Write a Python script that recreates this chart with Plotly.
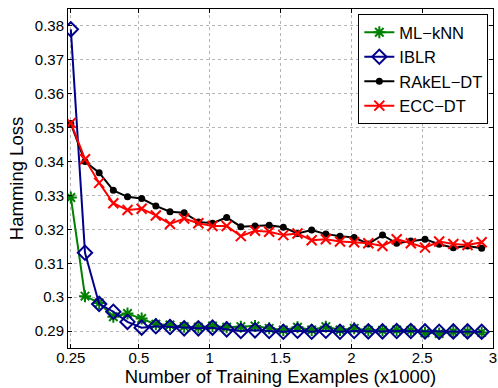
import plotly.graph_objects as go

# Training set sizes (thousands of examples) at which each method was evaluated
train_size = [0.02, 0.12, 0.22, 0.32, 0.42, 0.52, 0.62, 0.72, 0.82, 0.92,
              1.02, 1.12, 1.22, 1.32, 1.42, 1.52, 1.62, 1.72, 1.82, 1.92,
              2.02, 2.12, 2.22, 2.32, 2.42, 2.52, 2.62, 2.72, 2.82, 2.92]

mlknn = [0.3294, 0.3003, 0.2983, 0.2942, 0.2952, 0.2937, 0.2920, 0.2918, 0.2913, 0.2911,
         0.2915, 0.2911, 0.2913, 0.2915, 0.2908, 0.2903, 0.2911, 0.2903, 0.2913, 0.2903,
         0.2908, 0.2902, 0.2902, 0.2903, 0.2902, 0.2895, 0.2893, 0.2898, 0.2898, 0.2896]

iblr = [0.3790, 0.3131, 0.2980, 0.2957, 0.2927, 0.2910, 0.2914, 0.2912, 0.2908, 0.2908,
        0.2910, 0.2905, 0.2900, 0.2902, 0.2900, 0.2898, 0.2901, 0.2898, 0.2901, 0.2898,
        0.2900, 0.2899, 0.2899, 0.2900, 0.2900, 0.2899, 0.2898, 0.2899, 0.2899, 0.2898]

rakel_dt = [0.3512, 0.3400, 0.3367, 0.3315, 0.3296, 0.3291, 0.3269, 0.3252, 0.3249, 0.3222,
            0.3218, 0.3235, 0.3208, 0.3210, 0.3212, 0.3206, 0.3188, 0.3198, 0.3186, 0.3180,
            0.3176, 0.3157, 0.3183, 0.3159, 0.3166, 0.3171, 0.3156, 0.3146, 0.3151, 0.3144]

ecc_dt = [0.3514, 0.3407, 0.3337, 0.3277, 0.3257, 0.3261, 0.3241, 0.3216, 0.3232, 0.3218,
          0.3210, 0.3210, 0.3180, 0.3196, 0.3193, 0.3183, 0.3188, 0.3168, 0.3171, 0.3164,
          0.3162, 0.3159, 0.3151, 0.3171, 0.3159, 0.3146, 0.3164, 0.3157, 0.3154, 0.3162]

x_tickvals = [0.02, 0.5, 1, 1.5, 2, 2.5, 3]
x_ticktext = ["0.25", "0.5", "1", "1.5", "2", "2.5", "3"]
y_tickvals = [0.29, 0.30, 0.31, 0.32, 0.33, 0.34, 0.35, 0.36, 0.37, 0.38]
y_ticktext = ["0.29", "0.3", "0.31", "0.32", "0.33", "0.34", "0.35", "0.36", "0.37", "0.38"]

FONT = "Liberation Sans, Arial, Helvetica, sans-serif"

fig = go.Figure()

fig.add_trace(go.Scatter(
    x=train_size, y=mlknn, name="ML\u2212kNN", mode="lines+markers",
    line=dict(color="#008000", width=2),
    marker=dict(symbol="asterisk-open", size=10, color="#008000",
                line=dict(color="#008000", width=2)),
))
fig.add_trace(go.Scatter(
    x=train_size, y=iblr, name="IBLR", mode="lines+markers",
    line=dict(color="#00008B", width=2),
    marker=dict(symbol="diamond-open", size=11, color="#00008B",
                line=dict(color="#00008B", width=2)),
))
fig.add_trace(go.Scatter(
    x=train_size, y=rakel_dt, name="RAkEL\u2212DT", mode="lines+markers",
    line=dict(color="#000000", width=2),
    marker=dict(symbol="circle", size=7, color="#000000"),
))
fig.add_trace(go.Scatter(
    x=train_size, y=ecc_dt, name="ECC\u2212DT", mode="lines+markers",
    line=dict(color="#FF0000", width=2),
    marker=dict(symbol="x-thin-open", size=10, color="#FF0000",
                line=dict(color="#FF0000", width=2)),
))

axis_common = dict(
    showline=True, linecolor="black", linewidth=1, mirror="ticks",
    ticks="inside", ticklen=4, tickcolor="black",
    showgrid=True, gridcolor="#b5b5b5", griddash="dot", gridwidth=1,
    zeroline=False, tickfont=dict(family=FONT, size=15, color="black"),
    ticklabeloverflow="allow",
)

fig.update_xaxes(
    range=[0, 3], tickvals=x_tickvals, ticktext=x_ticktext,
    ticklabelstandoff=-4,
    title=dict(text="Number of Training Examples (x1000)",
               font=dict(family=FONT, size=18.5, color="black"), standoff=2),
    **axis_common,
)
fig.update_yaxes(
    range=[0.285, 0.385], tickvals=y_tickvals, ticktext=y_ticktext,
    title=dict(text="Hamming Loss",
               font=dict(family=FONT, size=18.5, color="black"), standoff=6),
    **axis_common,
)

fig.update_layout(
    width=498, height=388,
    margin=dict(l=68, r=1, t=9, b=40),
    paper_bgcolor="white", plot_bgcolor="white",
    font=dict(family=FONT, color="black"),
    showlegend=True,
    legend=dict(
        x=0.989, y=0.985, xanchor="right", yanchor="top",
        bgcolor="white", bordercolor="black", borderwidth=1,
        font=dict(family=FONT, size=16.5, color="black"),
        tracegroupgap=0, itemwidth=30,
    ),
)

fig.write_html("out.html")
